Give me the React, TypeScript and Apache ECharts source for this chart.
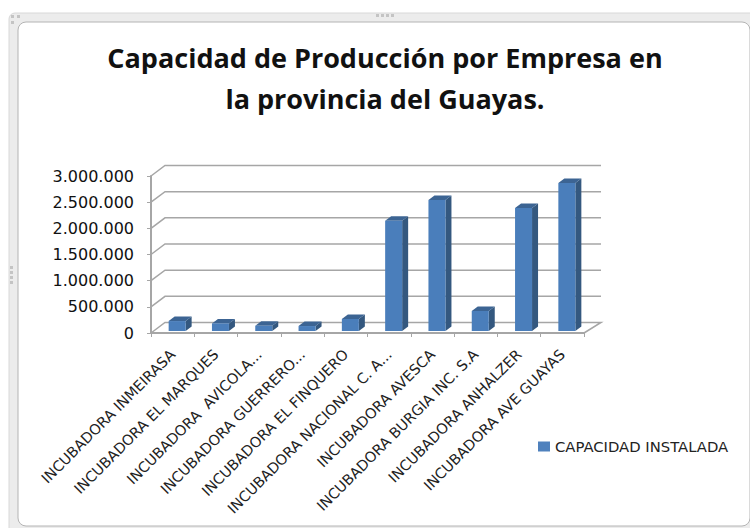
import React, { useEffect, useRef } from "react";
import * as echarts from "echarts";

const titleLines = ["Capacidad de Producción por Empresa en", "la provincia del Guayas."];
const seriesName = "CAPACIDAD INSTALADA";
const categories = [
  "INCUBADORA INMEIRASA",
  "INCUBADORA EL MARQUES",
  "INCUBADORA  AVICOLA...",
  "INCUBADORA GUERRERO...",
  "INCUBADORA EL FINQUERO",
  "INCUBADORA NACIONAL C. A...",
  "INCUBADORA AVESCA",
  "INCUBADORA BURGIA INC. S.A",
  "INCUBADORA ANHALZER",
  "INCUBADORA AVE GUAYAS",
];
const capacity = [190000, 145000, 100000, 95000, 230000, 2107000, 2503000, 382000, 2350000, 2828000];
const tickValues = [0, 500000, 1000000, 1500000, 2000000, 2500000, 3000000];
const tickLabels = ["0", "500.000", "1.000.000", "1.500.000", "2.000.000", "2.500.000", "3.000.000"];

const DX = 14;
const DY = -10.5;
const GRID = "#a6a6a6";
const LABEL_FONT = "'DejaVu Sans'";

const handleDots = [
  [377, 15], [382, 15], [387, 15], [392, 15],
  [11, 267], [11, 272], [11, 277], [11, 282],
  [12, 16], [18, 16], [12, 22],
];

export default function App() {
  const ref = useRef<HTMLDivElement>(null);
  useEffect(() => {
    const chart = echarts.init(ref.current!, undefined, { renderer: "svg" });
    chart.setOption({
      animation: false,
      backgroundColor: "#ffffff",
      textStyle: { fontFamily: LABEL_FONT },
      graphic: [
        { type: "rect", z: -10, shape: { x: 9, y: 13, width: 760, height: 530, r: 6 }, style: { fill: "#ececec", stroke: "#d8d8d8", lineWidth: 1 } },
        { type: "rect", z: -9, shape: { x: 18, y: 22, width: 732, height: 504, r: 8 }, style: { fill: "#ffffff", stroke: "#b4b4b4", lineWidth: 1 } },
        ...handleDots.map(([x, y]) => ({ type: "rect", z: -8, shape: { x: x - 1, y: y - 1, width: 3, height: 3 }, style: { fill: "#c4c4c4" } })),
        { type: "text", x: 385, y: 57, style: { text: titleLines[0], font: "bold 27px 'Open Sans'", fill: "#111111", align: "center", verticalAlign: "middle" } },
        { type: "text", x: 385, y: 98, style: { text: titleLines[1], font: "bold 27px 'Open Sans'", fill: "#111111", align: "center", verticalAlign: "middle" } },
      ],
      legend: {
        data: [seriesName],
        left: 533,
        top: 434,
        icon: "rect",
        itemWidth: 12,
        itemHeight: 10,
        itemGap: 4,
        textStyle: { fontFamily: LABEL_FONT, fontSize: 14.8, color: "#222222", padding: [0, 0, 0, 0] },
      },
      grid: { left: 151, right: 166, top: 176, bottom: 195, outerBoundsMode: "none" },
      xAxis: {
        type: "category",
        data: categories,
        axisLine: { lineStyle: { color: GRID, width: 2 } },
        axisTick: { show: true, length: 4, lineStyle: { color: GRID } },
        axisLabel: {
          interval: 0,
          rotate: 45,
          margin: 19,
          fontFamily: LABEL_FONT,
          fontSize: 14.5,
          color: "#222222",
        },
      },
      yAxis: {
        type: "value",
        min: 0,
        max: 3000000,
        interval: 500000,
        splitLine: { show: false },
        axisLine: { show: true, lineStyle: { color: GRID, width: 2 } },
        axisTick: { show: true, length: 4, lineStyle: { color: GRID } },
        axisLabel: {
          margin: 17,
          fontFamily: LABEL_FONT,
          fontSize: 16,
          color: "#111111",
          formatter: (v: number) => tickLabels[tickValues.indexOf(v)],
        },
      },
      series: [
        {
          type: "custom",
          name: "walls",
          silent: true,
          z: 1,
          data: tickValues.map((v) => [0, v]),
          renderItem: (_p: any, api: any) => {
            const v = api.value(1);
            const [x0, y] = api.coord([0, v]);
            const step = api.size([1, 0])[0];
            const xl = x0 - step / 2;
            const xr = xl + step * categories.length;
            const points = [[xl, y], [xl + DX, y + DY], [xr + DX + 3, y + DY]];
            if (v === 0) points.push([xr, y]);
            return {
              type: "polyline",
              shape: { points },
              style: { fill: "none", stroke: GRID, lineWidth: 1.5 },
            };
          },
        },
        {
          type: "custom",
          name: seriesName,
          z: 2,
          itemStyle: { color: "#4f81bd" },
          data: capacity.map((v, i) => [i, v]),
          renderItem: (_p: any, api: any) => {
            const top = api.coord([api.value(0), api.value(1)]);
            const base = api.coord([api.value(0), 0]);
            const x = top[0] - 4;
            const w = 17;
            const d = 6;
            const e = 4.5;
            const yt = top[1] - 2;
            const yb = base[1] - 2;
            return {
              type: "group",
              children: [
                { type: "polygon", shape: { points: [[x + w, yt], [x + w + d, yt - e], [x + w + d, yb - e], [x + w, yb]] }, style: { fill: "#34587f" } },
                { type: "polygon", shape: { points: [[x, yt], [x + d, yt - e], [x + w + d, yt - e], [x + w, yt]] }, style: { fill: "#3c6493" } },
                { type: "rect", shape: { x, y: yt, width: w, height: yb - yt }, style: { fill: "#4a7ebb" } },
              ],
            };
          },
        },
      ],
    });
    return () => chart.dispose();
  }, []);
  return <div ref={ref} style={{ position: "fixed", left: 0, top: 0, width: 750, height: 528 }} />;
}
